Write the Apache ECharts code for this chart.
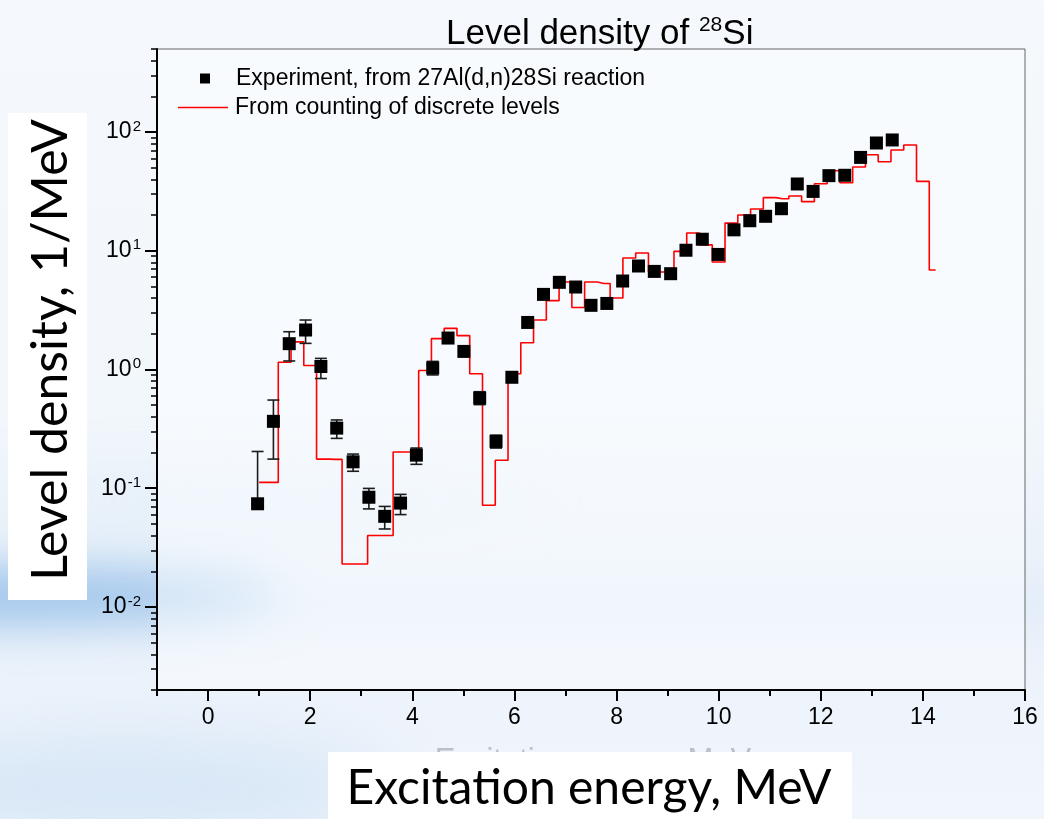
<!DOCTYPE html>
<html>
<head>
<meta charset="utf-8">
<title>Level density of 28Si</title>
<script src="https://cdn.jsdelivr.net/npm/echarts@6/dist/echarts.min.js"></script>
<style>
  html, body { margin: 0; padding: 0; background: #f3f7fc; }
  #chart { width: 1044px; height: 819px; }
</style>
</head>
<body>
<div id="chart"></div>
<script>
// Experimental level density of 28Si from the 27Al(d,n)28Si reaction
const expEnergy = [0.97, 1.28, 1.59, 1.91, 2.21, 2.52, 2.84, 3.15, 3.46, 3.77, 4.08,
  4.40, 4.70, 5.01, 5.32, 5.64, 5.95, 6.26, 6.57, 6.88, 7.20, 7.50, 7.81, 8.12, 8.43,
  8.74, 9.06, 9.36, 9.68, 9.99, 10.30, 10.61, 10.92, 11.23, 11.54, 11.85, 12.16, 12.47,
  12.78, 13.09, 13.40];
const expDensity = [0.074, 0.366, 1.65, 2.15, 1.06, 0.321, 0.167, 0.084, 0.058, 0.075, 0.19,
  1.03, 1.84, 1.42, 0.575, 0.248, 0.86, 2.49, 4.29, 5.42, 4.95, 3.47, 3.60, 5.56, 7.44,
  6.70, 6.41, 10.1, 12.5, 9.31, 15.0, 17.9, 19.5, 22.6, 36.5, 31.6, 42.9, 43.2,
  61.1, 80.8, 85.7];
// Error bar limits (null where the bar stays inside the marker)
const expErrLow = [0.074, 0.176, 1.18, 1.66, 0.84, 0.263, 0.139, 0.067, 0.0454, 0.060, 0.159,
  0.90, null, null, 0.506, 0.218, null, null, null, null, null, null, null, null, null,
  null, null, null, null, null, null, null, null, null, null, null, null, null,
  null, null, null];
const expErrHigh = [0.204, 0.553, 2.08, 2.61, 1.24, 0.376, 0.194, 0.0997, 0.0703, 0.0888, 0.218,
  1.17, null, null, 0.65, 0.28, null, null, null, null, null, null, null, null, null,
  null, null, null, null, null, null, null, null, null, null, null, null, null,
  null, null, null];

// Density obtained by counting discrete levels in 0.25 MeV bins (bin centres, MeV)
const binCentre = [1.00, 1.25, 1.50, 1.75, 2.00, 2.25, 2.50, 2.75, 3.00, 3.25,
  3.50, 3.75, 4.00, 4.25, 4.50, 4.75, 5.00, 5.25, 5.50, 5.75,
  6.00, 6.25, 6.50, 6.75, 7.00, 7.25, 7.50, 7.75, 8.00, 8.25,
  8.50, 8.75, 9.00, 9.25, 9.50, 9.75, 10.00, 10.25, 10.50, 10.75,
  11.00, 11.25, 11.50, 11.75, 12.00, 12.25, 12.50, 12.75, 13.00, 13.25,
  13.50, 13.75, 14.00, 14.25];
const binDensity = [0.112, 0.112, 1.15, 1.71, 1.08, 0.176, 0.175, 0.023, 0.023, 0.040,
  0.040, 0.202, 0.202, 0.98, 1.82, 2.22, 1.93, 0.922, 0.072, 0.172,
  0.922, 1.68, 2.61, 3.80, 5.46, 3.33, 5.45, 5.30, 4.00, 8.69,
  9.57, 6.62, 6.62, 9.88, 14.1, 11.2, 8.04, 17.1, 20.0, 22.5,
  28.0, 27.4, 28.9, 25.9, 36.7, 47.2, 37.4, 50.7, 64.4, 56.2,
  70.5, 77.8, 38.4, 6.89];

// Axis ticks
const xTickValues = [0, 2, 4, 6, 8, 10, 12, 14, 16];
const xMinorValues = [-1, 1, 3, 5, 7, 9, 11, 13, 15];
const yTickValues = [0.01, 0.1, 1, 10, 100];
const yMinorValues = [];
for (let e = -3; e <= 2; e++) {
  for (let m = 2; m <= 9; m++) {
    const v = +(m * Math.pow(10, e)).toPrecision(3);
    if (v >= 0.002 && v <= 500) yMinorValues.push(v);
  }
}

const EXP_NAME = 'Experiment, from 27Al(d,n)28Si reaction';
const CNT_NAME = 'From counting of discrete levels';
const SANS = '"Liberation Sans", Arial, sans-serif';

const chart = echarts.init(document.getElementById('chart'), null, { renderer: 'canvas' });

// Soft coloured haze: the shape sits off-canvas, only its blurred shadow shows
function haze(cx, cy, rx, ry, color, blur) {
  return {
    type: 'ellipse', z: -90, silent: true,
    shape: { cx: cx - 3000, cy: cy, rx: rx, ry: ry },
    style: { fill: color, shadowColor: color, shadowBlur: blur, shadowOffsetX: 3000 }
  };
}

const option = {
  animation: false,
  backgroundColor: 'transparent',
  title: {
    text: '{a|Level density of }{s|28}{a|Si}',
    left: 441, top: 10,
    textStyle: {
      fontWeight: 'normal',
      rich: {
        a: { fontSize: 35, fontWeight: 'normal', fontFamily: SANS, color: '#000' },
        s: { fontSize: 21, fontWeight: 'normal', fontFamily: SANS, color: '#000', padding: [0, 0, 17, 0] }
      }
    }
  },
  legend: [
    {
      data: [{ name: EXP_NAME, icon: 'rect' }],
      left: 195, top: 62, itemWidth: 10, itemHeight: 10,
      selectedMode: false,
      textStyle: { fontSize: 23, lineHeight: 23, fontFamily: SANS, color: '#000', padding: [0, 0, 0, 21] }
    },
    {
      data: [{ name: CNT_NAME, icon: 'rect' }],
      left: 173, top: 91, itemWidth: 50, itemHeight: 1.5,
      selectedMode: false,
      textStyle: { fontSize: 23, lineHeight: 23, fontFamily: SANS, color: '#000', padding: [0, 0, 0, 2] }
    }
  ],
  grid: {
    left: 157, right: 19, top: 49, bottom: 129,
    show: true, backgroundColor: 'rgba(252,253,255,0.5)',
    borderColor: '#666', borderWidth: 1
  },
  xAxis: [
    {
      type: 'value', min: -1, max: 16, position: 'bottom',
      axisLine: { show: true, onZero: false, lineStyle: { color: '#000', width: 2 } },
      axisTick: { show: true, customValues: xTickValues, length: 11, lineStyle: { color: '#000', width: 2 } },
      axisLabel: { customValues: xTickValues, fontSize: 23, fontFamily: SANS, color: '#000', margin: 16 },
      splitLine: { show: false }
    },
    {
      type: 'value', min: -1, max: 16, position: 'bottom',
      axisLine: { show: false, onZero: false },
      axisTick: { show: true, customValues: xMinorValues, length: 6, lineStyle: { color: '#000', width: 2 } },
      axisLabel: { show: false },
      splitLine: { show: false }
    }
  ],
  yAxis: [
    {
      type: 'log', logBase: 10, min: 0.002, max: 500, position: 'left',
      axisLine: { show: true, onZero: false, lineStyle: { color: '#000', width: 2 } },
      axisTick: { show: true, customValues: yTickValues, length: 12, lineStyle: { color: '#000', width: 2 } },
      axisLabel: {
        customValues: yTickValues, margin: 16,
        formatter: function (v) {
          return '{b|10}{s|' + Math.round(Math.log10(v)) + '}';
        },
        rich: {
          b: { fontSize: 23, fontFamily: SANS, color: '#000' },
          s: { fontSize: 15, fontFamily: SANS, color: '#000', padding: [0, 0, 11, 1] }
        }
      },
      splitLine: { show: false }
    },
    {
      type: 'log', logBase: 10, min: 0.002, max: 500, position: 'left',
      axisLine: { show: false, onZero: false },
      axisTick: { show: true, customValues: yMinorValues, length: 6, lineStyle: { color: '#000', width: 1.5 } },
      axisLabel: { show: false },
      splitLine: { show: false }
    }
  ],
  series: [
    {
      name: CNT_NAME, type: 'line', step: 'middle',
      xAxisIndex: 0, yAxisIndex: 0, z: 2,
      showSymbol: false, symbol: 'none',
      lineStyle: { color: '#ff0000', width: 1.6 },
      itemStyle: { color: '#ff0000' },
      data: binCentre.map((x, i) => [x, binDensity[i]])
    },
    {
      name: 'error bars', type: 'custom',
      xAxisIndex: 0, yAxisIndex: 0, z: 3, silent: true,
      encode: { x: 0, y: [1, 2] },
      data: expEnergy
        .map((x, i) => [x, expErrLow[i], expErrHigh[i]])
        .filter(d => d[1] != null && d[2] != null),
      renderItem: function (params, api) {
        const x = api.value(0);
        const lo = api.coord([x, api.value(1)]);
        const hi = api.coord([x, api.value(2)]);
        const half = 6;
        const style = { stroke: '#1c1c1c', lineWidth: 1.6 };
        return {
          type: 'group',
          children: [
            { type: 'line', shape: { x1: lo[0], y1: lo[1], x2: hi[0], y2: hi[1] }, style: style },
            { type: 'line', shape: { x1: hi[0] - half, y1: hi[1], x2: hi[0] + half, y2: hi[1] }, style: style },
            { type: 'line', shape: { x1: lo[0] - half, y1: lo[1], x2: lo[0] + half, y2: lo[1] }, style: style }
          ]
        };
      }
    },
    {
      name: EXP_NAME, type: 'scatter',
      xAxisIndex: 0, yAxisIndex: 0, z: 4,
      symbol: 'rect', symbolSize: 13,
      itemStyle: { color: '#000', opacity: 1 },
      data: expEnergy.map((x, i) => [x, expDensity[i]])
    }
  ],
  graphic: {
    elements: [
      {
        type: 'rect', z: -100, silent: true,
        shape: { x: 0, y: 0, width: 1044, height: 819 },
        style: {
          fill: {
            type: 'linear', x: 0, y: 0, x2: 0, y2: 1,
            colorStops: [
              { offset: 0, color: '#f5f8fd' },
              { offset: 0.5, color: '#f2f7fc' },
              { offset: 0.68, color: '#eaf2fa' },
              { offset: 0.74, color: '#e4eef9' },
              { offset: 0.82, color: '#edf3fb' },
              { offset: 1, color: '#f1f6fc' }
            ]
          }
        }
      },
      haze(20, 595, 260, 22, 'rgba(140,186,232,1)', 50),
      haze(120, 790, 280, 50, 'rgba(196,219,242,0.8)', 80),
      haze(260, 500, 280, 20, 'rgba(205,225,245,0.6)', 60),
      {
        type: 'text', z: 90, silent: true,
        style: {
          x: 593, y: 746, text: 'Excitation energy, MeV',
          font: '31px "Liberation Sans", Arial, sans-serif',
          fill: '#bcc0c6', align: 'center', verticalAlign: 'top'
        }
      },
      {
        type: 'rect', z: 100, silent: true,
        shape: { x: 328, y: 752, width: 524, height: 67 },
        style: { fill: '#ffffff' }
      },
      {
        type: 'text', z: 101, silent: true,
        style: {
          x: 589, y: 789, text: 'Excitation energy, MeV',
          font: '48px Lato, "Open Sans", sans-serif',
          fill: '#000', align: 'center', verticalAlign: 'middle'
        }
      },
      {
        type: 'rect', z: 100, silent: true,
        shape: { x: 8, y: 113, width: 79, height: 487 },
        style: { fill: '#ffffff' }
      },
      {
        type: 'text', z: 101, silent: true,
        x: 51, y: 350, rotation: Math.PI / 2,
        style: {
          x: 0, y: 0, text: 'Level density, 1/MeV',
          font: '50px Lato, "Open Sans", sans-serif',
          fill: '#000', align: 'center', verticalAlign: 'middle'
        }
      }
    ]
  }
};

chart.setOption(option);
</script>
</body>
</html>
